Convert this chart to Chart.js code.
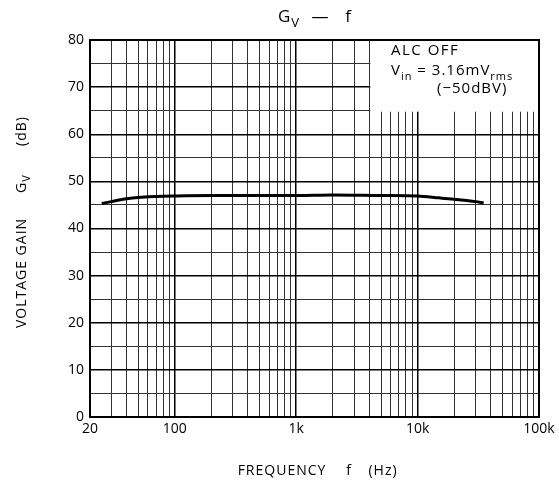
<!DOCTYPE html>
<html>
<head>
<meta charset="utf-8">
<script src="https://cdn.jsdelivr.net/npm/chart.js@4/dist/chart.umd.min.js"></script>
<style>
  html, body { margin: 0; padding: 0; background: #fff; }
  #wrap { width: 559px; height: 484px; }
</style>
</head>
<body>
<div id="wrap"><canvas id="gainChart" width="559" height="484"></canvas></div>
<script>
// frequency response, ALC off
var freqHz = [25, 30, 40, 50, 70, 100, 200, 500, 1000, 2000, 5000, 10000, 15000, 20000, 30000, 35000];
var gainDb = [45.3, 45.7, 46.3, 46.6, 46.8, 46.9, 47.0, 47.0, 47.0, 47.1, 47.0, 46.9, 46.5, 46.2, 45.7, 45.4];

var xTickLabels = { 20: '20', 100: '100', 1000: '1k', 10000: '10k', 100000: '100k' };
var yTickLabels = [0, 10, 20, 30, 40, 50, 60, 70, 80];

var FONT = '"Open Sans", "DejaVu Sans", sans-serif';

// grid positions on the log axis: 20..90, 100..900, ...
var xGrid = [];
[10, 100, 1000, 10000].forEach(function(dec) {
  for (var m = 1; m < 10; m++) {
    var v = m * dec;
    if (v >= 20) xGrid.push(v);
  }
});
xGrid.push(100000);

// text with subscripts, parts = [[text, isSub], ...]
function subText(ctx, parts, x, y, size, spacing) {
  var subSize = Math.round(size * 0.75);
  ctx.letterSpacing = spacing + 'px';
  ctx.textAlign = 'left';
  var cx = x;
  parts.forEach(function(p) {
    ctx.font = (p[1] ? subSize : size) + 'px ' + FONT;
    ctx.fillText(p[0], cx, y + (p[1] ? size * 0.3 : 0));
    cx += ctx.measureText(p[0]).width;
  });
  ctx.letterSpacing = '0px';
}

var decorPlugin = {
  id: 'decor',
  beforeDatasetsDraw: function(chart) {
    var ctx = chart.ctx, xs = chart.scales.x, ys = chart.scales.y;
    // white note box over the grid in the top right corner
    var bx = xs.getPixelForValue(4000);
    var by = ys.getPixelForValue(65);
    ctx.save();
    ctx.fillStyle = '#fff';
    ctx.fillRect(bx + 1, chart.chartArea.top + 1, chart.chartArea.right - bx - 2, by - chart.chartArea.top);
    ctx.restore();
  },
  afterDraw: function(chart) {
    var ctx = chart.ctx, area = chart.chartArea;
    ctx.save();
    ctx.fillStyle = '#000';
    ctx.textBaseline = 'alphabetic';

    // title
    subText(ctx, [['G', false], ['V', true]], 278, 22, 17, 1);
    ctx.font = '17px ' + FONT;
    ctx.textAlign = 'center';
    ctx.fillText('\u2014', 320, 22);
    ctx.fillText('f', 348, 22);

    // note text
    subText(ctx, [['ALC OFF', false]], 391, 55, 15, 1.5);
    subText(ctx, [['V', false], ['in', true], [' = 3.16mV', false], ['rms', true]], 391, 75, 15, 1);
    subText(ctx, [['(\u221250dBV)', false]], 437, 93, 15, 1);

    // x axis title
    ctx.font = '14px ' + FONT;
    ctx.letterSpacing = '1px';
    ctx.textAlign = 'center';
    ctx.fillText('FREQUENCY', 282, 475);
    ctx.fillText('f', 349, 475);
    ctx.fillText('(Hz)', 383, 475);

    // y axis title, rotated
    ctx.translate(26, 0);
    ctx.rotate(-Math.PI / 2);
    ctx.fillText('VOLTAGE GAIN', -273, 0);
    ctx.letterSpacing = '0px';
    subText(ctx, [['G', false], ['V', true]], -193, 0, 14, 1);
    ctx.font = '14px ' + FONT;
    ctx.letterSpacing = '1px';
    ctx.textAlign = 'center';
    ctx.fillText('(dB)', -131, 0);
    ctx.restore();

    // frame
    ctx.save();
    ctx.strokeStyle = '#000';
    ctx.lineWidth = 2;
    ctx.strokeRect(area.left, area.top, area.right - area.left, area.bottom - area.top);
    ctx.restore();
  }
};

var points = freqHz.map(function(f, i) { return { x: f, y: gainDb[i] }; });

new Chart(document.getElementById('gainChart'), {
  type: 'scatter',
  data: {
    datasets: [{
      data: points,
      showLine: true,
      borderColor: '#000',
      borderWidth: 3,
      pointRadius: 0,
      cubicInterpolationMode: 'monotone',
      fill: false
    }]
  },
  options: {
    responsive: false,
    animation: false,
    layout: { padding: { left: 0, right: 20, top: 40, bottom: 0 } },
    plugins: {
      legend: { display: false },
      tooltip: { enabled: false }
    },
    scales: {
      x: {
        type: 'logarithmic',
        min: 20,
        max: 100000,
        afterBuildTicks: function(scale) {
          scale.ticks = xGrid.map(function(v) { return { value: v }; });
        },
        afterFit: function(scale) { scale.height = 67; },
        grid: {
          color: function(c) {
            var v = c.tick && c.tick.value;
            return [100, 1000, 10000].indexOf(v) >= 0 ? '#000' : '#333';
          },
          lineWidth: function(c) {
            var v = c.tick && c.tick.value;
            return [100, 1000, 10000].indexOf(v) >= 0 ? 1.5 : 1;
          },
          drawTicks: false
        },
        border: { display: false },
        ticks: {
          autoSkip: false,
          maxRotation: 0,
          padding: 4,
          color: '#000',
          font: { family: FONT, size: 14 },
          callback: function(v) { return xTickLabels[v] || ''; }
        }
      },
      y: {
        min: 0,
        max: 80,
        afterBuildTicks: function(scale) {
          var t = [];
          for (var v = 0; v <= 80; v += 5) t.push({ value: v });
          scale.ticks = t;
        },
        afterFit: function(scale) { scale.width = 90; },
        grid: {
          color: function(c) {
            return c.tick && c.tick.value % 10 === 0 ? '#000' : '#333';
          },
          lineWidth: function(c) {
            return c.tick && c.tick.value % 10 === 0 ? 1.5 : 1;
          },
          drawTicks: false
        },
        border: { display: false },
        ticks: {
          autoSkip: false,
          padding: 6,
          color: '#000',
          font: { family: FONT, size: 14 },
          callback: function(v) { return yTickLabels.indexOf(v) >= 0 ? String(v) : ''; }
        }
      }
    }
  },
  plugins: [decorPlugin]
});
</script>
</body>
</html>
